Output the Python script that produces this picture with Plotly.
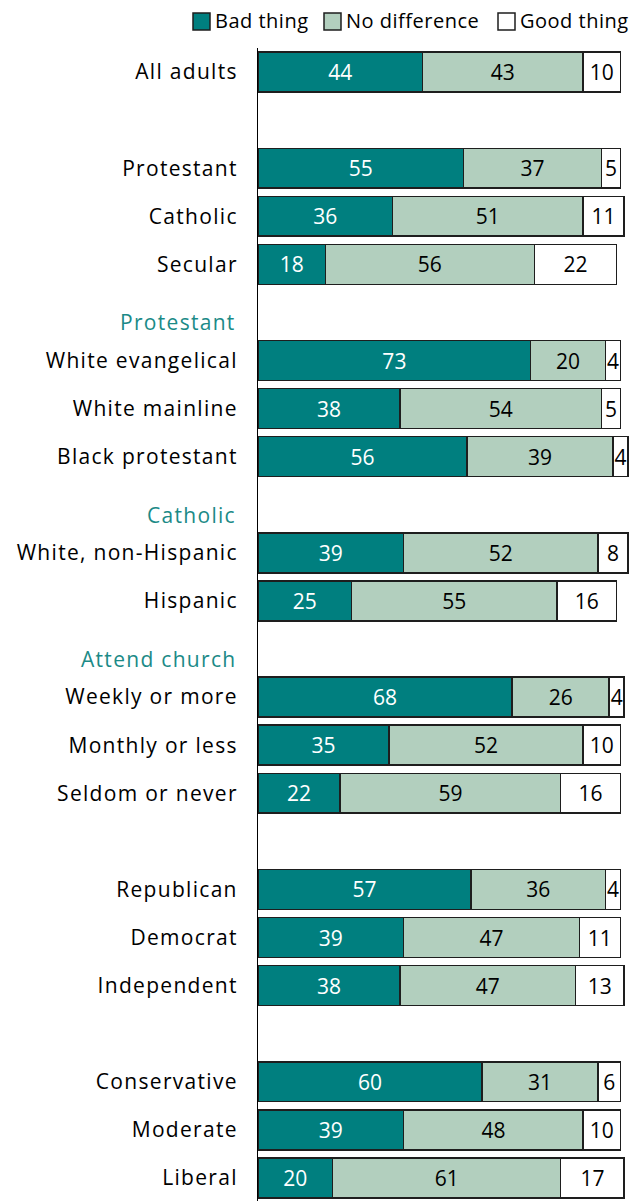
import plotly.graph_objects as go

# survey answers, percent
categories = [
    "All adults", "Protestant", "Catholic", "Secular",
    "White evangelical", "White mainline", "Black protestant",
    "White, non-Hispanic", "Hispanic",
    "Weekly or more", "Monthly or less", "Seldom or never",
    "Republican", "Democrat", "Independent",
    "Conservative", "Moderate", "Liberal",
]
bad_thing = [44, 55, 36, 18, 73, 38, 56, 39, 25, 68, 35, 22, 57, 39, 38, 60, 39, 20]
no_difference = [43, 37, 51, 56, 20, 54, 39, 52, 55, 26, 52, 59, 36, 47, 47, 31, 48, 61]
good_thing = [10, 5, 11, 22, 4, 5, 4, 8, 16, 4, 10, 16, 4, 11, 13, 6, 10, 17]

# row slot of each category (gaps hold blank rows and group headers)
slots = [0, 2, 3, 4, 6, 7, 8, 10, 11, 13, 14, 15, 17, 18, 19, 21, 22, 23]
headers = [("Protestant", 5), ("Catholic", 9), ("Attend church", 12)]

FONT = "Open Sans"
SIZE = 21
TEAL = "#007f7f"
SAGE = "#b2cfbe"
EDGE = "#1e1e1e"

W, H = 629, 1201
ML, MT = 258, 48
PW, PH = W - ML, H - MT


def spaced(s, ls=1.3):
    return f"<span style='letter-spacing:{ls}px'>{s}</span>"


def px_x(px):
    return (px - ML) / PW


def px_y(py):
    return 1 + (MT - py) / PH


series = [
    ("Bad thing", bad_thing, TEAL, "white"),
    ("No difference", no_difference, SAGE, "black"),
    ("Good thing", good_thing, "white", "black"),
]

fig = go.Figure()
for name, values, color, text_color in series:
    fig.add_trace(
        go.Bar(
            name=name,
            y=slots,
            x=values,
            orientation="h",
            width=0.83,
            marker=dict(color=color, line=dict(color=EDGE, width=1.5)),
            text=[str(v) for v in values],
            textposition="inside",
            insidetextanchor="middle",
            textangle=0,
            textfont=dict(color=text_color, size=SIZE, family=FONT),
            hoverinfo="skip",
            showlegend=False,
        )
    )

for label, slot in headers:
    fig.add_annotation(
        x=0,
        xref="paper",
        y=slot,
        yref="y",
        text=spaced(label),
        showarrow=False,
        xanchor="right",
        xshift=-20,
        yshift=-10,
        font=dict(color="#1b8a87", size=SIZE, family=FONT),
    )

# legend drawn by hand so it stays on a single line above the bars
legend_items = [("Bad thing", TEAL, 193), ("No difference", SAGE, 324), ("Good thing", "white", 498)]
for name, color, left in legend_items:
    fig.add_shape(
        type="rect",
        xref="paper",
        yref="paper",
        x0=px_x(left),
        x1=px_x(left + 17),
        y0=px_y(30),
        y1=px_y(13),
        fillcolor=color,
        line=dict(color=EDGE, width=1.5),
    )
    fig.add_annotation(
        x=px_x(left + 20),
        xref="paper",
        y=px_y(21),
        yref="paper",
        text=spaced(name, 0.5),
        showarrow=False,
        xanchor="left",
        yanchor="middle",
        font=dict(size=20, family=FONT, color="black"),
    )

fig.update_layout(
    barmode="stack",
    width=W,
    height=H,
    margin=dict(l=ML, r=0, t=MT, b=0, autoexpand=False),
    plot_bgcolor="white",
    paper_bgcolor="white",
    font=dict(family=FONT, size=SIZE, color="black"),
    uniformtext=dict(minsize=SIZE, mode="show"),
    showlegend=False,
)
fig.update_xaxes(range=[0, 99.3], visible=False, fixedrange=True)
fig.update_yaxes(
    range=[23.48, -0.5],
    tickvals=slots,
    ticktext=[spaced(c) for c in categories],
    showline=True,
    linecolor="black",
    linewidth=1,
    showgrid=False,
    zeroline=False,
    ticks="outside",
    ticklen=15,
    tickcolor="rgba(0,0,0,0)",
    tickfont=dict(size=SIZE, family=FONT),
    automargin=False,
    fixedrange=True,
)

fig.write_html(
    "out.html",
    config={"displayModeBar": False},
    post_script="document.body.style.margin = '0';",
)
